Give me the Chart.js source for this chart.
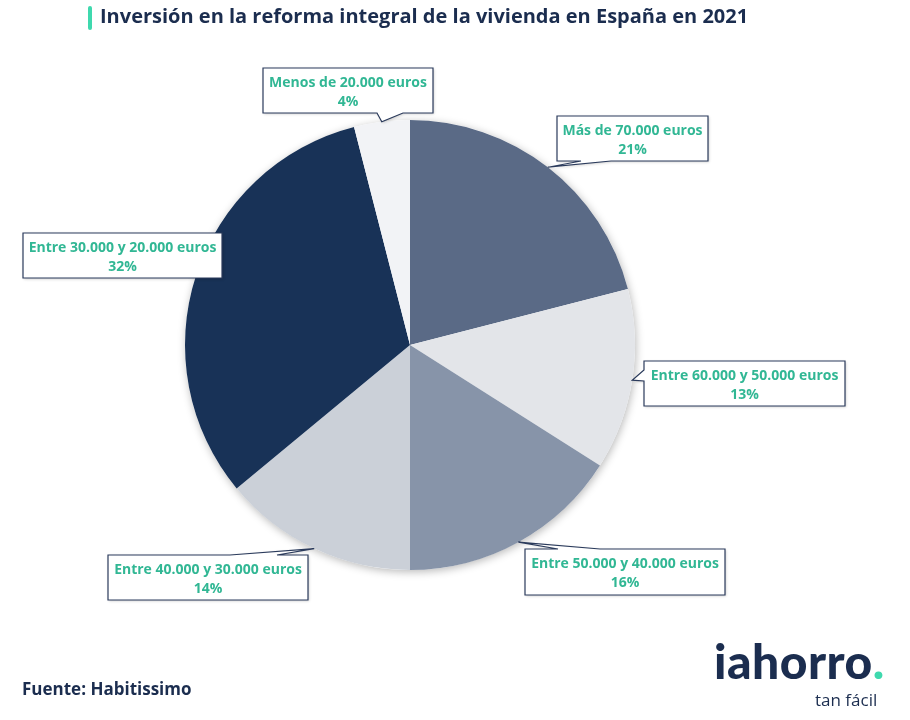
<!DOCTYPE html>
<html lang="es">
<head>
<meta charset="utf-8">
<title>Inversión en la reforma integral de la vivienda en España en 2021</title>
<script src="https://cdn.jsdelivr.net/npm/chart.js@4.4.1/dist/chart.umd.min.js"></script>
<style>
    html, body { margin: 0; padding: 0; background: #fff; }
    body { width: 910px; height: 720px; position: relative; overflow: hidden; font-family: "Open Sans", "Noto Sans", sans-serif; }
    #chart { position: absolute; left: 0; top: 0; }
    .title-bar { position: absolute; left: 88px; top: 6px; width: 4px; height: 24px; background: #3fd9ae; border-radius: 2px; }
    .title { position: absolute; left: 100px; top: 2px; font-size: 20px; font-weight: 700; color: #1b2d4f; white-space: nowrap; }
    .source { position: absolute; left: 22px; top: 677px; font-size: 17px; font-weight: 700; color: #1b2d4f; }
    .logo { position: absolute; left: 714px; top: 632px; font-family: Lato, sans-serif; font-size: 48px; font-weight: 900; color: #1b2d4f; letter-spacing: 0.5px; }
    .logo span { color: #3fd9ae; }
    .tagline { position: absolute; left: 815px; top: 688px; font-size: 17px; font-weight: 500; color: #1b2d4f; }
</style>
</head>
<body>
<canvas id="chart" width="910" height="720"></canvas>
<div class="title-bar"></div>
<div class="title">Inversión en la reforma integral de la vivienda en España en 2021</div>
<div class="source">Fuente: Habitissimo</div>
<div class="logo">iahorro<span>.</span></div>
<div class="tagline">tan fácil</div>

<script>
// Tramos de inversión (orden horario desde las 12)
const LABELS = [
    "Más de 70.000 euros",
    "Entre 60.000 y 50.000 euros",
    "Entre 50.000 y 40.000 euros",
    "Entre 40.000 y 30.000 euros",
    "Entre 30.000 y 20.000 euros",
    "Menos de 20.000 euros"
];
const SHARES = [21, 13, 16, 14, 32, 4];
const COLORS = ["#5a6a86", "#e3e5e9", "#8794a9", "#cbd0d8", "#183257", "#f2f3f6"];

// Cajas de las etiquetas (callouts) y lado del que sale el puntero
const BOXES = [
    { x: 557, y: 116, w: 151, h: 45, side: "bottom", a: 24, b: 54 },
    { x: 644, y: 361, w: 201, h: 45, side: "left",   a: 9,  b: 20 },
    { x: 525, y: 549, w: 200, h: 46, side: "top",    a: 33, b: 75 },
    { x: 108, y: 555, w: 200, h: 45, side: "top",    a: 122, b: 169 },
    { x: 23,  y: 233, w: 199, h: 45, side: null },
    { x: 263, y: 68,  w: 170, h: 45, side: "bottom", a: 114, b: 140 }
];

const LABEL_COLOR = "#31b794";
const BORDER = "#2b3b5c";

// ── sombra suave bajo la tarta ─────────────────────────────────
const pieShadow = {
    id: "pieShadow",
    beforeDatasetsDraw(chart) {
        const arc = chart.getDatasetMeta(0).data[0];
        if (!arc) return;
        const ctx = chart.ctx;
        ctx.save();
        ctx.shadowColor = "rgba(0,0,0,0.28)";
        ctx.shadowBlur = 9;
        ctx.shadowOffsetX = 1;
        ctx.shadowOffsetY = 2;
        ctx.fillStyle = "#ffffff";
        ctx.beginPath();
        ctx.arc(arc.x, arc.y, arc.outerRadius, 0, Math.PI * 2);
        ctx.fill();
        ctx.restore();
    }
};

// ── etiquetas tipo callout ─────────────────────────────────────
function calloutPath(ctx, b, tip) {
    const { x, y, w, h } = b;
    ctx.beginPath();
    ctx.moveTo(x, y);
    if (b.side === "top") {
        ctx.lineTo(x + b.a, y); ctx.lineTo(tip.x, tip.y); ctx.lineTo(x + b.b, y);
    }
    ctx.lineTo(x + w, y);
    ctx.lineTo(x + w, y + h);
    if (b.side === "bottom") {
        ctx.lineTo(x + b.b, y + h); ctx.lineTo(tip.x, tip.y); ctx.lineTo(x + b.a, y + h);
    }
    ctx.lineTo(x, y + h);
    if (b.side === "left") {
        ctx.lineTo(x, y + b.b); ctx.lineTo(tip.x, tip.y); ctx.lineTo(x, y + b.a);
    }
    ctx.closePath();
}

const callouts = {
    id: "callouts",
    afterDatasetsDraw(chart) {
        const ctx = chart.ctx;
        const arcs = chart.getDatasetMeta(0).data;
        arcs.forEach((arc, i) => {
            const b = BOXES[i];
            const mid = (arc.startAngle + arc.endAngle) / 2;
            const tip = {
                x: arc.x + Math.cos(mid) * arc.outerRadius,
                y: arc.y + Math.sin(mid) * arc.outerRadius
            };
            ctx.save();
            calloutPath(ctx, b, tip);
            ctx.shadowColor = "rgba(0,0,0,0.22)";
            ctx.shadowBlur = 3;
            ctx.shadowOffsetX = 1;
            ctx.shadowOffsetY = 1;
            ctx.fillStyle = "#ffffff";
            ctx.fill();
            ctx.shadowColor = "transparent";
            ctx.lineWidth = 1.2;
            ctx.strokeStyle = BORDER;
            ctx.stroke();

            ctx.fillStyle = LABEL_COLOR;
            ctx.font = "700 14px 'Open Sans', sans-serif";
            ctx.textAlign = "center";
            ctx.textBaseline = "middle";
            const cx = b.x + b.w / 2;
            ctx.fillText(chart.data.labels[i], cx, b.y + 15);
            ctx.fillText(SHARES[i] + "%", cx, b.y + 34);
            ctx.restore();
        });
    }
};

new Chart(document.getElementById("chart"), {
    type: "pie",
    data: {
        labels: LABELS,
        datasets: [{
            data: SHARES,
            backgroundColor: COLORS,
            borderWidth: 0
        }]
    },
    options: {
        responsive: false,
        animation: false,
        layout: { padding: { left: 185, right: 275, top: 120, bottom: 150 } },
        plugins: {
            legend: { display: false },
            tooltip: { enabled: false }
        }
    },
    plugins: [pieShadow, callouts]
});
</script>
</body>
</html>
